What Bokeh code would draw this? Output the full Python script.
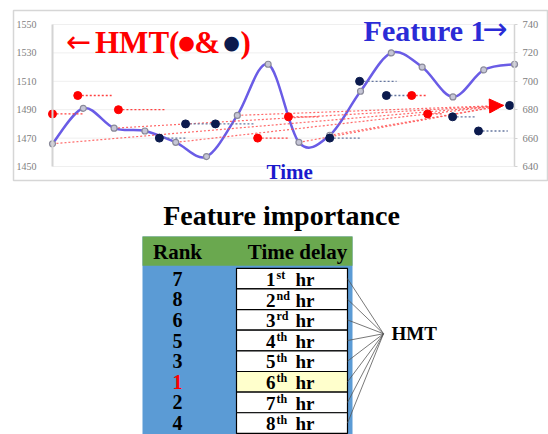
import numpy as np
from bokeh.plotting import figure
from bokeh.models import (Range1d, LinearAxis, Label, Arrow, NormalHead, FixedTicker)
from bokeh.layouts import column
from bokeh.embed import file_html
from bokeh.resources import INLINE
from bokeh.core.properties import value

# ---------------- data ----------------
time_idx = list(range(16))
feature1 = [656, 681, 667, 665, 657, 647, 676, 712, 657, 662, 693, 720, 710, 689, 708, 712]

hmt_red_t = [0.0, 0.82, 2.14, 6.66, 7.66, 11.66, 12.18]
hmt_red_v = [1487, 1500, 1490, 1470, 1485, 1500, 1487]
hmt_red_span = [1.0, 1.1, 1.5, 1.0, 1.0, 0.5, 0.5]

hmt_navy_t = [3.47, 4.32, 5.29, 9.0, 9.97, 10.84, 12.99, 13.83]
hmt_navy_v = [660, 670, 670, 660, 700, 690, 675, 665]
hmt_navy_span = [0.9, 1.0, 1.3, 1.0, 1.2, 0.7, 0.75, 0.95]

target_t = 14.84
target_v = 683
arrow_from = [0, 2, 4, 6, 8, 9]

left_ticks = [1450, 1470, 1490, 1510, 1530, 1550]
right_ticks = [640, 660, 680, 700, 720, 740]

ranks = [7, 8, 6, 5, 3, 1, 2, 4]
hours = ["1", "2", "3", "4", "5", "6", "7", "8"]
suffixes = ["st", "nd", "rd", "th", "th", "th", "th", "th"]

SERIF = "Liberation Serif"
SYM = "DejaVu Sans"

# ---------------- top chart ----------------
pA = figure(width=548, height=188, output_backend="svg", toolbar_location=None,
            x_range=Range1d(-1.266, 16.07), y_range=Range1d(1440.14, 1559.86),
            x_axis_location=None, y_axis_location=None,
            min_border_left=13, min_border_right=1, min_border_top=10, min_border_bottom=8)
pA.extra_y_ranges = {"f1": Range1d(630.14, 749.86)}
pA.grid.visible = False
pA.outline_line_color = "#d6d6d6"
pA.outline_line_width = 1.5

# faint horizontal grid between the two axes
pA.segment(x0=[time_idx[0]] * len(left_ticks), y0=left_ticks,
           x1=[time_idx[-1]] * len(left_ticks), y1=left_ticks,
           line_color="#efefef", line_width=1)

ya = LinearAxis(ticker=FixedTicker(ticks=left_ticks), fixed_location=time_idx[0],
                bounds=(left_ticks[0], left_ticks[-1]))
ya.axis_line_color = "#d4d4d4"
ya.axis_line_width = 2
ya.major_tick_line_color = None
ya.minor_tick_line_color = None
ya.major_label_text_font = SERIF
ya.major_label_text_font_size = "10px"
ya.major_label_text_color = "#808080"
ya.major_label_standoff = 10
pA.add_layout(ya, "left")

yr = LinearAxis(y_range_name="f1", ticker=FixedTicker(ticks=right_ticks),
                fixed_location=time_idx[-1], bounds=(right_ticks[0], right_ticks[-1]))
yr.axis_line_color = "#d4d4d4"
yr.axis_line_width = 1.5
yr.major_tick_line_color = "#d4d4d4"
yr.major_tick_out = 3
yr.major_tick_in = 0
yr.minor_tick_line_color = None
yr.major_label_text_font = SERIF
yr.major_label_text_font_size = "10.5px"
yr.major_label_text_color = "#808080"
yr.major_label_standoff = 5
pA.add_layout(yr, "right")

# smooth line through feature values (Catmull-Rom bezier segments)
t = np.array(time_idx, float)
v = np.array(feature1, float)
tp = np.concatenate([[t[0]], t, [t[-1]]])
vp = np.concatenate([[v[0]], v, [v[-1]]])
n = len(t)
prev_t, cur_t, nxt_t, nn_t = tp[0:n-1], tp[1:n], tp[2:n+1], tp[3:n+2]
prev_v, cur_v, nxt_v, nn_v = vp[0:n-1], vp[1:n], vp[2:n+1], vp[3:n+2]
pA.bezier(x0=cur_t, y0=cur_v, x1=nxt_t, y1=nxt_v,
          cx0=cur_t + (nxt_t - prev_t) / 6, cy0=cur_v + (nxt_v - prev_v) / 6,
          cx1=nxt_t - (nn_t - cur_t) / 6, cy1=nxt_v - (nn_v - cur_v) / 6,
          y_range_name="f1", line_color="#6a5ce6", line_width=2.5)

# arrows from past feature values to target
ax0 = [time_idx[i] for i in arrow_from]
ay0 = [feature1[i] for i in arrow_from]
end_t = target_t - 0.2
pA.segment(x0=ax0, y0=ay0, x1=[end_t] * len(ax0), y1=[target_v] * len(ax0),
           y_range_name="f1", line_color="#ff5050", line_width=1.2,
           line_dash="2 2", line_alpha=0.85)
k = arrow_from.index(6)
pA.add_layout(Arrow(end=NormalHead(size=14, fill_color="red", line_color="red"),
                    x_start=ax0[k], y_start=ay0[k], x_end=end_t, y_end=target_v,
                    y_range_name="f1", line_alpha=0))

pA.scatter(time_idx, feature1, y_range_name="f1", size=6,
           fill_color="#c6c6d6", line_color="#8a8a9a", line_width=1.2)

# HMT markers with delay spans
pA.segment(x0=hmt_red_t, y0=hmt_red_v,
           x1=[a + b for a, b in zip(hmt_red_t, hmt_red_span)], y1=hmt_red_v,
           line_color="#ff4040", line_width=1.3, line_dash="2 2")
pA.segment(x0=hmt_navy_t, y0=hmt_navy_v,
           x1=[a + b for a, b in zip(hmt_navy_t, hmt_navy_span)], y1=hmt_navy_v,
           y_range_name="f1", line_color="#6677a0", line_width=1.3, line_dash="2 2")
pA.scatter(hmt_red_t, hmt_red_v, size=8, fill_color="#ff0000", line_color="#ff0000")
pA.scatter(hmt_navy_t, hmt_navy_v, y_range_name="f1", size=8,
           fill_color="#0b1a4d", line_color="#0b1a4d")
pA.scatter([target_t], [target_v], y_range_name="f1", size=8,
           fill_color="#0b1a4d", line_color="#0b1a4d")

# texts
def lab(p, x, y, text, color, size, align="left", font=SERIF, style="bold"):
    p.add_layout(Label(x=x, y=y, text=text, text_color=color, text_font=font,
                       text_font_style=style, text_font_size=size,
                       text_align=align, text_baseline="middle"))

lab(pA, 0.45, 1538, "←", "#ff0000", "30px", font=SYM, style="normal")
lab(pA, 1.38, 1537, "HMT(", "#ff0000", "31px")
lab(pA, 4.35, 1538, "●", "#ff0000", "19px", "center", font=SYM, style="normal")
lab(pA, 4.60, 1537, "&", "#ff0000", "31px")
lab(pA, 5.81, 1538, "●", "#0b1a4d", "19px", "center", font=SYM, style="normal")
lab(pA, 6.10, 1537, ")", "#ff0000", "31px")
lab(pA, 10.1, 1546, "Feature 1", "#2b2bd6", "30px")
lab(pA, 13.95, 1547, "→", "#2b2bd6", "30px", font=SYM, style="normal")
lab(pA, 7.7, 1446, "Time", "#1a1acc", "21px", "center")

# ---------------- table ----------------
pB = figure(width=548, height=246, output_backend="svg", toolbar_location=None,
            x_range=Range1d(13, 547), y_range=Range1d(8.054, -3.869),
            x_axis_location=None, y_axis_location=None,
            min_border_left=13, min_border_right=1, min_border_top=0, min_border_bottom=0)
pB.grid.visible = False
pB.outline_line_color = None

rows = np.arange(len(ranks))
centers = rows + 0.5

pB.quad(left=[142], right=[352], top=[-1.54], bottom=[9], fill_color="#5b9bd5", line_color=None)
pB.quad(left=[142], right=[352], top=[-1.54], bottom=[-0.13], fill_color="#6aa84f", line_color=None)
cell_fill = ["#ffffcc" if r == 1 else "white" for r in ranks]
pB.quad(left=236, right=347, top=rows, bottom=rows + 1, fill_color=cell_fill,
        line_color="black", line_width=1.2)

conv_y = 3.17
pB.segment(x0=[347] * len(rows), y0=centers, x1=[383] * len(rows), y1=[conv_y] * len(rows),
           line_color="#555555", line_width=0.8)

def txt(x, y, text, size, color="black", align="center"):
    pB.text(x=x, y=y, text=text, text_font=value(SERIF), text_font_style="bold",
            text_font_size=size, text_color=color, text_align=align, text_baseline="middle")

txt([281], [-2.56], ["Feature importance"], "28px")
txt([177], [-0.81], ["Rank"], "21px")
txt([297], [-0.81], ["Time delay"], "21px")
txt([177] * len(rows), centers, [str(r) for r in ranks], "20px",
    color=["#ff0000" if r == 1 else "black" for r in ranks])
txt([275] * len(rows), centers + 0.04, hours, "19px", align="right")
txt([276] * len(rows), centers - 0.17, suffixes, "12px", align="left")
txt([295] * len(rows), centers + 0.04, ["hr"] * len(rows), "19px", align="left")
txt([391], [conv_y], ["HMT"], "19px", align="left")

layout = column(pA, pB)
open("out.html", "w").write(file_html(layout, INLINE))
